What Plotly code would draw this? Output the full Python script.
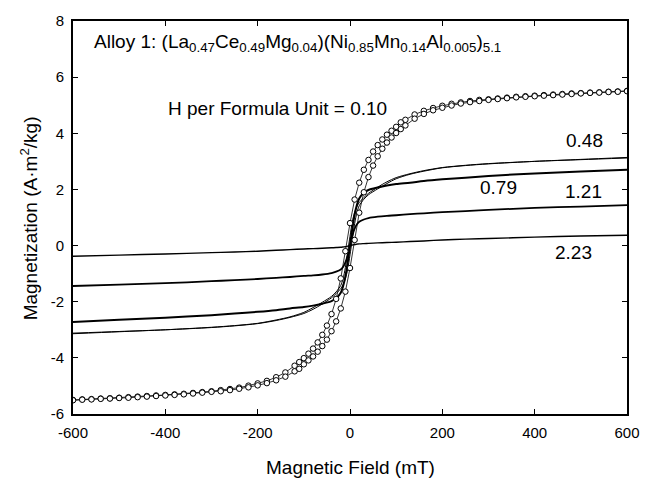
import plotly.graph_objects as go

# ---------------- data ----------------
# H per formula unit = 0.10 (open circles), two branches of the loop
H_010_DESC = [600, 580, 560, 540, 520, 500, 480, 460, 440, 420, 400, 380, 360, 340, 320, 300,
              280, 260, 240, 220, 200, 180, 160, 140, 120, 110, 100, 90, 80, 70, 60, 50, 40,
              30, 20, 10, 0, -10, -20, -30, -40, -50, -60, -70, -80, -90, -100, -110, -120,
              -140, -160, -180, -200, -220, -240, -260, -280, -300, -320, -340, -360, -380,
              -400, -420, -440, -460, -480, -500, -520, -540, -560, -580, -600]
M_010_DESC = [5.51, 5.49, 5.48, 5.46, 5.45, 5.43, 5.42, 5.40, 5.38, 5.36, 5.34, 5.32, 5.30, 5.27,
              5.24, 5.21, 5.19, 5.15, 5.10, 5.05, 4.98, 4.90, 4.80, 4.67, 4.48, 4.39, 4.23, 4.09,
              3.95, 3.78, 3.58, 3.35, 3.05, 2.70, 2.24, 1.64, 0.80, -0.20, -1.17, -1.90, -2.44,
              -2.85, -3.18, -3.45, -3.67, -3.85, -4.01, -4.15, -4.28, -4.52, -4.69, -4.82, -4.91,
              -4.99, -5.06, -5.11, -5.15, -5.19, -5.22, -5.25, -5.28, -5.30, -5.32, -5.34, -5.36,
              -5.38, -5.40, -5.42, -5.44, -5.45, -5.47, -5.48, -5.50]
H_010_ASC = [-600, -580, -560, -540, -520, -500, -480, -460, -440, -420, -400, -380, -360, -340,
             -320, -300, -280, -260, -240, -220, -200, -180, -160, -140, -120, -110, -100, -90,
             -80, -70, -60, -50, -40, -30, -20, -10, 0, 10, 20, 30, 40, 50, 60, 70, 80, 90, 100,
             110, 120, 140, 160, 180, 200, 220, 240, 260, 280, 300, 320, 340, 360, 380, 400, 420,
             440, 460, 480, 500, 520, 540, 560, 580, 600]
M_010_ASC = [-5.51, -5.49, -5.48, -5.46, -5.45, -5.43, -5.42, -5.40, -5.38, -5.36, -5.34, -5.32,
             -5.30, -5.27, -5.24, -5.21, -5.19, -5.15, -5.10, -5.05, -4.98, -4.90, -4.80, -4.67,
             -4.48, -4.39, -4.23, -4.09, -3.95, -3.78, -3.58, -3.35, -3.05, -2.70, -2.24, -1.64,
             -0.80, 0.20, 1.17, 1.90, 2.44, 2.85, 3.18, 3.45, 3.67, 3.85, 4.01, 4.15, 4.28, 4.52,
             4.69, 4.82, 4.91, 4.99, 5.06, 5.11, 5.15, 5.19, 5.22, 5.25, 5.28, 5.30, 5.32, 5.34,
             5.36, 5.38, 5.40, 5.42, 5.44, 5.45, 5.47, 5.48, 5.50]

# Solid curves share one field grid
H_SOLID = [-600, -500, -400, -300, -250, -200, -160, -130, -100, -80, -60, -40, -30, -20, -15,
           -10, -5, 0, 5, 10, 15, 20, 30, 40, 60, 80, 100, 130, 160, 200, 250, 300, 400, 500, 600]
M_048_DESC = [-3.14, -3.07, -3.00, -2.91, -2.85, -2.77, -2.65, -2.54, -2.38, -2.21, -2.02, -1.81,
              -1.65, -1.42, -1.18, -0.78, -0.22, 0.33, 0.85, 1.18, 1.39, 1.53, 1.71, 1.86, 2.08,
              2.27, 2.42, 2.56, 2.67, 2.78, 2.86, 2.92, 3.00, 3.06, 3.12]
M_048_ASC = [-3.12, -3.06, -3.00, -2.92, -2.86, -2.78, -2.67, -2.56, -2.42, -2.27, -2.08, -1.86,
             -1.71, -1.53, -1.39, -1.18, -0.85, -0.33, 0.22, 0.78, 1.18, 1.42, 1.65, 1.81, 2.02,
             2.21, 2.38, 2.54, 2.65, 2.77, 2.85, 2.91, 3.00, 3.07, 3.14]
M_079 = [-2.72, -2.64, -2.57, -2.48, -2.42, -2.36, -2.30, -2.24, -2.19, -2.14, -2.07, -1.98,
         -1.88, -1.68, -1.45, -1.10, -0.60, 0.00, 0.60, 1.10, 1.45, 1.68, 1.88, 1.98, 2.07, 2.14,
         2.19, 2.24, 2.30, 2.36, 2.42, 2.48, 2.57, 2.64, 2.70]
M_121 = [-1.44, -1.39, -1.34, -1.27, -1.23, -1.19, -1.15, -1.12, -1.08, -1.06, -1.03, -0.98,
         -0.93, -0.85, -0.76, -0.60, -0.35, 0.00, 0.35, 0.60, 0.76, 0.85, 0.93, 0.98, 1.03, 1.06,
         1.08, 1.12, 1.15, 1.19, 1.23, 1.27, 1.34, 1.39, 1.44]
M_223 = [-0.38, -0.34, -0.30, -0.25, -0.23, -0.20, -0.165, -0.145, -0.12, -0.11, -0.095, -0.08,
         -0.07, -0.06, -0.05, -0.04, -0.02, 0.00, 0.02, 0.04, 0.05, 0.06, 0.07, 0.08, 0.095, 0.11,
         0.12, 0.145, 0.165, 0.20, 0.23, 0.25, 0.30, 0.34, 0.37]

X_TICKS = [-600, -400, -200, 0, 200, 400, 600]
Y_TICKS = [-6, -4, -2, 0, 2, 4, 6, 8]

TITLE_TEXT = ("Alloy 1: (La<sub>0.47</sub>Ce<sub>0.49</sub>Mg<sub>0.04</sub>)"
              "(Ni<sub>0.85</sub>Mn<sub>0.14</sub>Al<sub>0.005</sub>)<sub>5.1</sub>")
SUBTITLE_TEXT = "H per Formula Unit = 0.10"
CURVE_LABELS = ["0.48", "0.79", "1.21", "2.23"]

FONT = "Liberation Sans, Arial, sans-serif"

# ---------------- figure ----------------
fig = go.Figure()

def solid(y, width):
    fig.add_trace(go.Scatter(x=H_SOLID, y=y, mode="lines",
                             line=dict(color="black", width=width, shape="spline", smoothing=0.8),
                             hoverinfo="skip", showlegend=False))

solid(M_223, 1.4)
solid(M_121, 1.8)
solid(M_079, 2.0)
solid(M_048_DESC, 1.0)
solid(M_048_ASC, 1.0)

for hx, my in ((H_010_DESC, M_010_DESC), (H_010_ASC, M_010_ASC)):
    fig.add_trace(go.Scatter(x=hx, y=my, mode="lines+markers",
                             line=dict(color="black", width=0.8),
                             marker=dict(symbol="circle", size=5.5, color="white",
                                         line=dict(color="black", width=1)),
                             hoverinfo="skip", showlegend=False))

axis_common = dict(showgrid=False, zeroline=False, showline=True, linecolor="black",
                   linewidth=2, mirror="allticks", ticks="inside", ticklen=5, tickwidth=1,
                   tickcolor="black", tickfont=dict(family=FONT, size=15, color="black"),
                   ticklabelstandoff=4)

fig.update_xaxes(range=[-600, 600], tickvals=X_TICKS, ticktext=[str(v) for v in X_TICKS],
                 **axis_common)
fig.update_yaxes(range=[-6, 8], tickvals=Y_TICKS, ticktext=[str(v) for v in Y_TICKS],
                 **axis_common)

ann_font = dict(family=FONT, size=19, color="black")
annotations = [
    dict(text=TITLE_TEXT, xref="paper", yref="paper", x=0.0336, y=0.944,
         xanchor="left", yanchor="middle", showarrow=False, font=ann_font),
    dict(text=SUBTITLE_TEXT, xref="paper", yref="paper", x=0.168, y=0.778,
         xanchor="left", yanchor="middle", showarrow=False, font=ann_font),
    dict(text=CURVE_LABELS[0], xref="x", yref="y", x=508, y=3.74, showarrow=False, font=ann_font),
    dict(text=CURVE_LABELS[1], xref="x", yref="y", x=322, y=2.08, showarrow=False, font=ann_font),
    dict(text=CURVE_LABELS[2], xref="x", yref="y", x=506, y=1.92, showarrow=False, font=ann_font),
    dict(text=CURVE_LABELS[3], xref="x", yref="y", x=485, y=-0.25, showarrow=False, font=ann_font),
    dict(text="Magnetic Field (mT)", xref="paper", yref="paper", x=0.5, y=-0.136,
         xanchor="center", yanchor="middle", showarrow=False, font=ann_font),
    dict(text="Magnetization (A·m<sup>2</sup>/kg)", xref="paper", yref="paper", x=-0.08,
         y=0.497, xanchor="center", yanchor="middle", textangle=-90, showarrow=False,
         font=ann_font),
]

fig.update_layout(width=652, height=479, margin=dict(l=73, r=14, t=15, b=65),
                  paper_bgcolor="white", plot_bgcolor="white", annotations=annotations,
                  showlegend=False)

fig.write_html("out.html")
